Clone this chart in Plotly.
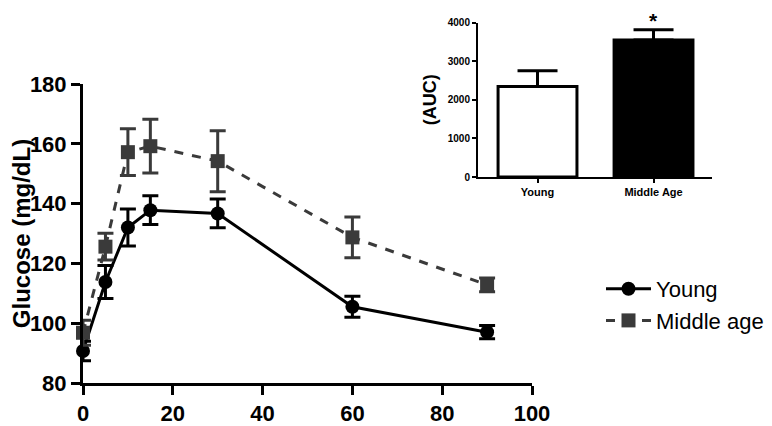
import plotly.graph_objects as go

time_min = [0, 5, 10, 15, 30, 60, 90]
young = [90.7, 113.8, 132, 137.8, 136.7, 105.5, 97]
young_err = [3.3, 5.5, 6.2, 4.8, 4.8, 3.5, 2.2]
middle = [96.8, 125.6, 157.2, 159.2, 154.2, 128.7, 112.8]
middle_err = [4.2, 4.5, 7.8, 9, 10.2, 6.8, 2.3]

auc_groups = ["Young", "Middle Age"]
auc_values = [2340, 3545]
auc_err = [410, 265]

BLACK = "#000000"
GRAY = "#3a3a3a"
FONT = "Liberation Sans, Arial, sans-serif"

fig = go.Figure()

fig.add_trace(go.Scatter(
    x=time_min, y=young, name="Young", mode="lines+markers",
    line=dict(color=BLACK, width=3),
    marker=dict(symbol="circle", size=14, color=BLACK),
    error_y=dict(type="data", array=young_err, color=BLACK, thickness=3, width=8),
    cliponaxis=False, xaxis="x", yaxis="y",
))
fig.add_trace(go.Scatter(
    x=time_min, y=middle, name="Middle age", mode="lines+markers",
    line=dict(color=GRAY, width=3, dash="dash"),
    marker=dict(symbol="square", size=14, color=GRAY),
    error_y=dict(type="data", array=middle_err, color=GRAY, thickness=3, width=8),
    cliponaxis=False, xaxis="x", yaxis="y",
))

fig.add_trace(go.Bar(
    x=auc_groups, y=auc_values,
    marker=dict(color=["#ffffff", BLACK], line=dict(color=BLACK, width=3)),
    width=0.68,
    error_y=dict(type="data", array=auc_err, arrayminus=[0, 0], symmetric=False,
                 color=BLACK, thickness=3, width=20),
    showlegend=False, xaxis="x2", yaxis="y2",
))

# page has an 8px body margin; figure is sized to fit the remaining viewport
OFF = 8
W, H = 772 - OFF, 426 - OFF
def px_x(p):
    return (p - OFF) / W
def px_y(p):
    return 1 - (p - OFF) / H

axis_common = dict(
    showline=True, linecolor=BLACK, showgrid=False, zeroline=False,
    ticks="outside", tickcolor=BLACK, mirror=False, automargin=False,
)

fig.update_layout(
    width=W, height=H,
    margin=dict(l=0, r=0, t=0, b=0, autoexpand=False),
    paper_bgcolor="white", plot_bgcolor="white",
    font=dict(family=FONT, color=BLACK),
    xaxis=dict(
        **axis_common, domain=[px_x(83), px_x(532)], range=[0, 100],
        tickvals=[0, 20, 40, 60, 80, 100], linewidth=3, tickwidth=3, ticklen=9,
        tickfont=dict(size=22, family=FONT, weight="bold"), anchor="y",
    ),
    yaxis=dict(
        **axis_common, domain=[px_y(383), px_y(84)], range=[80, 180],
        tickvals=[80, 100, 120, 140, 160, 180], linewidth=3, tickwidth=3, ticklen=9,
        tickfont=dict(size=22, family=FONT, weight="bold"), anchor="x",
        title=dict(text="Glucose (mg/dL)", font=dict(size=24, family=FONT, weight="bold"),
                   standoff=8),
    ),
    xaxis2=dict(
        **axis_common, domain=[px_x(478), px_x(712)], range=[-0.513, 1.504],
        type="category", linewidth=2, tickwidth=2, ticklen=4,
        tickfont=dict(size=11, family=FONT, weight="bold"), anchor="y2",
    ),
    yaxis2=dict(
        **axis_common, domain=[px_y(177), px_y(22.5)], range=[0, 4000],
        tickvals=[0, 1000, 2000, 3000, 4000], linewidth=2, tickwidth=2, ticklen=4,
        tickfont=dict(size=10, family=FONT, weight="bold"), anchor="x2",
        title=dict(text="(AUC)", font=dict(size=18, family=FONT, weight="bold"),
                   standoff=6),
    ),
    legend=dict(
        x=px_x(601), y=px_y(268), xanchor="left", yanchor="top",
        font=dict(size=22, family=FONT, color=BLACK),
        bgcolor="rgba(0,0,0,0)", tracegroupgap=0, itemwidth=45,
    ),
    annotations=[dict(
        x="Middle Age", y=1, xref="x2", yref="paper", text="<b>*</b>",
        showarrow=False, yanchor="top", borderpad=0,
        font=dict(size=21, family=FONT, color=BLACK),
    )],
)

fig.write_html("out.html")
